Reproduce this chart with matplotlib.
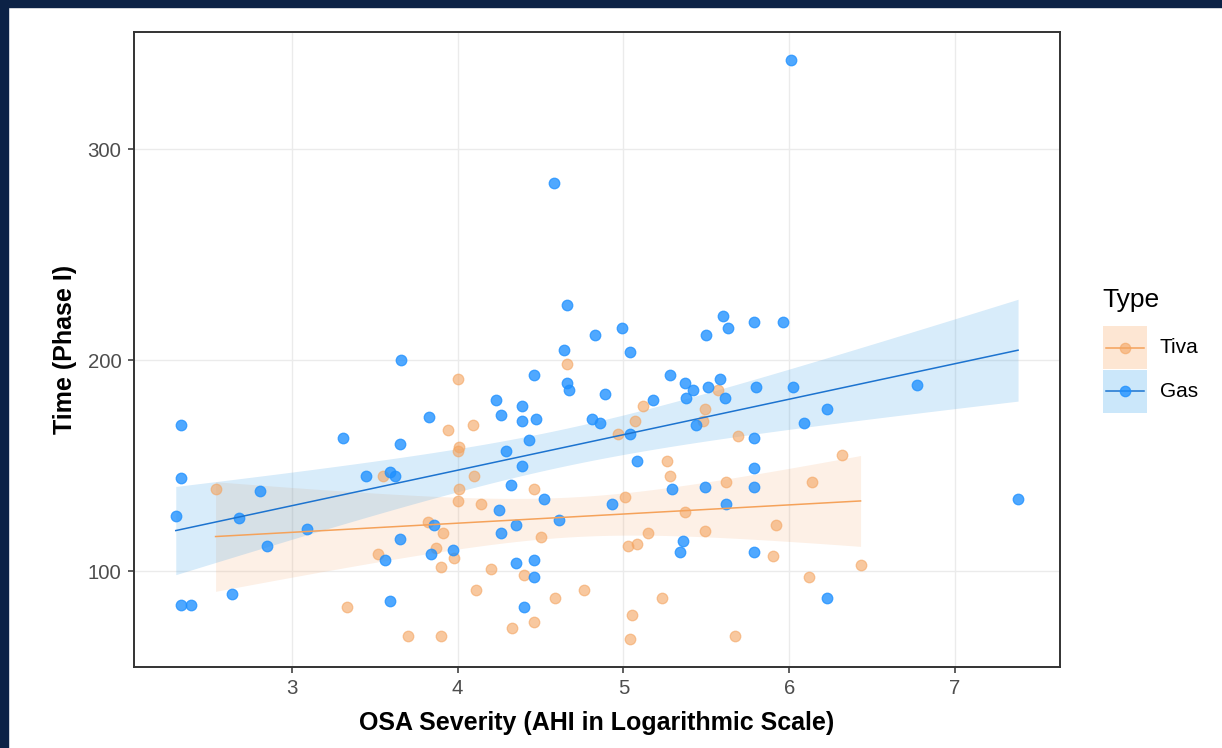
import numpy as np
import matplotlib
matplotlib.use("Agg")
import matplotlib.pyplot as plt
from matplotlib.patches import Rectangle
from matplotlib.lines import Line2D

# ---------------- data ----------------
gas_x = [3.66, 2.33, 2.33, 2.30, 2.68, 2.81, 2.85, 3.09, 2.64, 2.33, 2.39, 3.31, 3.45, 3.59,
         3.62, 3.65, 3.65, 3.56, 3.59, 3.83, 3.86, 3.84, 3.97, 4.23, 4.26, 4.39, 4.39, 4.29,
         4.43, 4.39, 4.32, 4.25, 4.26, 4.35, 4.35, 4.40, 6.01, 4.58, 4.66, 4.83, 4.99, 4.64,
         5.04, 5.50, 5.60, 5.63, 5.79, 5.96, 4.46, 4.66, 4.67, 4.89, 4.47, 4.81, 4.86, 4.52,
         4.61, 4.46, 4.46, 5.18, 5.28, 5.37, 5.42, 5.38, 5.51, 5.58, 5.61, 5.44, 5.04, 5.08,
         5.80, 6.02, 5.79, 6.23, 6.09, 5.79, 5.79, 5.29, 5.49, 5.62, 4.93, 5.36, 5.34, 5.79,
         6.23, 6.77, 7.38]
gas_y = [200, 169, 144, 126, 125, 138, 112, 120, 89, 84, 84, 163, 145, 147,
         145, 160, 115, 105, 86, 173, 122, 108, 110, 181, 174, 178, 171, 157,
         162, 150, 141, 129, 118, 122, 104, 83, 342, 284, 226, 212, 215, 205,
         204, 212, 221, 215, 218, 218, 193, 189, 186, 184, 172, 172, 170, 134,
         124, 105, 97, 181, 193, 189, 186, 182, 187, 191, 182, 169, 165, 152,
         187, 187, 163, 177, 170, 149, 140, 139, 140, 132, 132, 114, 109, 109,
         87, 188, 134]

tiva_x = [4.00, 3.94, 4.09, 4.01, 4.00, 3.55, 4.10, 4.01, 4.00, 4.14, 2.54, 3.82, 3.91, 3.87,
          3.52, 3.98, 3.90, 4.20, 4.11, 3.33, 3.70, 3.90, 4.33, 4.40, 4.46, 4.66, 5.12, 5.49,
          5.07, 4.97, 5.48, 5.57, 5.69, 5.26, 5.28, 5.01, 5.62, 6.32, 6.14, 4.46, 4.50, 5.37,
          5.15, 5.49, 5.92, 5.03, 5.08, 5.90, 6.43, 6.12, 4.76, 4.59, 5.23, 5.05, 5.04, 5.67]
tiva_y = [191, 167, 169, 159, 157, 145, 145, 139, 133, 132, 139, 123, 118, 111,
          108, 106, 102, 101, 91, 83, 69, 69, 73, 98, 76, 198, 178, 177,
          171, 165, 171, 186, 164, 152, 145, 135, 142, 155, 142, 139, 116, 128,
          118, 119, 122, 112, 113, 107, 103, 97, 91, 87, 87, 79, 68, 69]

types = ["Tiva", "Gas"]
x_ticks = [3, 4, 5, 6, 7]
y_ticks = [100, 200, 300]

# ---------------- style ----------------
plt.rcParams["font.family"] = ["Liberation Sans", "DejaVu Sans"]
pt_col = {"Tiva": "#F4A460", "Gas": "#1E90FF"}
line_col = {"Tiva": "#F5A25A", "Gas": "#1C73CF"}
band_col = {"Tiva": "#F29B58", "Gas": "#3CA0E6"}
pt_alpha = {"Tiva": 0.6, "Gas": 0.78}
band_alpha = {"Tiva": 0.15, "Gas": 0.2}
key_col = {"Tiva": "#fde6d3", "Gas": "#cbe7fa"}
T_CRIT = 2.0

W, H = 1222, 748
fig = plt.figure(figsize=(W / 100, H / 100), dpi=100)
fig.patch.set_facecolor("white")


def fx(px):
    return px / W


def fy(py):
    return 1 - py / H


# navy border strips
fig.add_artist(Rectangle((0, 0), fx(8), 1, transform=fig.transFigure,
                         color="#0c2246", zorder=0))
fig.add_artist(Rectangle((0, fy(7)), 1, 7 / H, transform=fig.transFigure,
                         color="#0c2246", zorder=0))

ax = fig.add_axes([fx(134), fy(667), (1060 - 134) / W, (667 - 32) / H])
ax.set_xlim(2.048, 7.633)
ax.set_ylim(54.5, 355.5)

data = {"Tiva": (np.array(tiva_x), np.array(tiva_y, float)),
        "Gas": (np.array(gas_x), np.array(gas_y, float))}

for t in types:
    x, y = data[t]
    n = len(x)
    b, a = np.polyfit(x, y, 1)
    xg = np.linspace(x.min(), x.max(), 100)
    yg = a + b * xg
    resid = y - (a + b * x)
    s = np.sqrt(np.sum(resid ** 2) / (n - 2))
    sxx = np.sum((x - x.mean()) ** 2)
    se = s * np.sqrt(1 / n + (xg - x.mean()) ** 2 / sxx)
    ax.fill_between(xg, yg - T_CRIT * se, yg + T_CRIT * se, color=band_col[t],
                    alpha=band_alpha[t], linewidth=0, zorder=1)
    ax.plot(xg, yg, color=line_col[t], lw=1.1, zorder=4)

for t in types:
    x, y = data[t]
    ax.scatter(x, y, s=58, color=pt_col[t], alpha=pt_alpha[t], edgecolors=pt_col[t],
               linewidths=0.9, zorder=3)

ax.set_xticks(x_ticks)
ax.set_yticks(y_ticks)
ax.grid(True, color="#ebebeb", lw=1.0, zorder=0)
ax.set_axisbelow(True)
for sp in ax.spines.values():
    sp.set_color("#333333")
    sp.set_linewidth(1.4)
ax.tick_params(axis="both", direction="out", length=4.5, width=1.1, color="#333333",
               labelcolor="#4d4d4d", labelsize=14.7, pad=4.5)

ax.set_xlabel("OSA Severity (AHI in Logarithmic Scale)", fontsize=18,
              fontweight="bold", labelpad=9)
ax.set_ylabel("Time (Phase I)", fontsize=18, fontweight="bold", labelpad=8)

# manual legend (ggplot style)
fig.text(fx(1102), fy(300), "Type", fontsize=19, ha="left", va="center", color="black")
key_top = 326
key_h = 43.5
for i, t in enumerate(types):
    top = key_top + i * key_h
    fig.add_artist(Rectangle((fx(1103), fy(top + key_h)), 44 / W, key_h / H,
                             transform=fig.transFigure, facecolor=key_col[t],
                             edgecolor="none", zorder=2))
    cy = fy(top + key_h / 2)
    fig.add_artist(Line2D([fx(1106), fx(1144)], [cy, cy], transform=fig.transFigure,
                          color=line_col[t], lw=1.1, zorder=3))
    fig.add_artist(Line2D([fx(1125)], [cy], transform=fig.transFigure, marker="o",
                          markersize=7.5, color=pt_col[t], alpha=pt_alpha[t],
                          markeredgewidth=0.9, linestyle="none", zorder=4))
    fig.text(fx(1160), cy, t, fontsize=15, ha="left", va="center", color="black")

fig.savefig("out.png", dpi=100, facecolor="white")
